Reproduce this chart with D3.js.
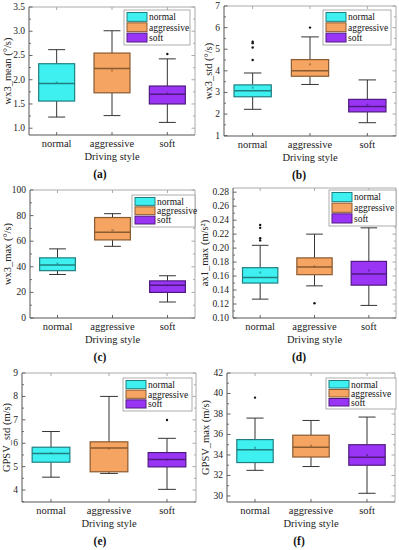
<!DOCTYPE html>
<html>
<head>
<meta charset="utf-8">
<script src="https://cdn.jsdelivr.net/npm/d3@7"></script>
<style>
  body { margin: 0; background: #fff; }
  svg text { font-family: "Liberation Serif", "DejaVu Serif", serif; }
</style>
</head>
<body>
<div id="chart"></div>
<script>
// categories, colours
const categories = ["normal", "aggressive", "soft"];
const fillColors = ["#3ff0f0", "#f5a462", "#9b35f5"];
const edgeColors = ["#1f7f80", "#8a5a30", "#4f1a80"];

// [low whisker, q1, median, q3, high whisker] par style
const wx3MeanBox = [[1.23, 1.56, 1.92, 2.33, 2.62], [1.26, 1.73, 2.23, 2.55, 3.01], [1.12, 1.50, 1.70, 1.87, 2.43]];
const wx3MeanAvg = [1.94, 2.19, 1.72];
const wx3MeanOut = [[], [], [2.53]];
const wx3MeanTicks = [1.0, 1.5, 2.0, 2.5, 3.0, 3.5];

const wx3StdBox = [[2.22, 2.80, 3.08, 3.35, 3.90], [3.37, 3.75, 4.00, 4.52, 5.57], [1.60, 2.10, 2.35, 2.68, 3.58]];
const wx3StdAvg = [3.22, 4.30, 2.43];
const wx3StdOut = [[5.35, 5.28, 5.08, 4.50], [6.00], []];
const wx3StdTicks = [1, 2, 3, 4, 5, 6, 7];

const wx3MaxBox = [[34, 37, 41.5, 47, 54], [56, 61, 67, 78.5, 81.5], [12.5, 20, 25.5, 29, 33]];
const wx3MaxAvg = [42.5, 68.5, 25.5];
const wx3MaxOut = [[], [], []];
const wx3MaxTicks = [0, 20, 40, 60, 80, 100];

const ax1MaxBox = [[0.127, 0.150, 0.158, 0.172, 0.204], [0.146, 0.162, 0.173, 0.186, 0.220], [0.118, 0.147, 0.163, 0.181, 0.229]];
const ax1MaxAvg = [0.165, 0.174, 0.168];
const ax1MaxOut = [[0.233, 0.229, 0.214, 0.211], [0.121], []];
const ax1MaxTicks = [0.10, 0.12, 0.14, 0.16, 0.18, 0.20, 0.22, 0.24, 0.26, 0.28];

const gpsvStdBox = [[4.55, 5.19, 5.56, 5.83, 6.50], [4.71, 4.78, 5.80, 6.06, 8.00], [4.03, 4.99, 5.30, 5.60, 6.21]];
const gpsvStdAvg = [5.58, 5.77, 5.30];
const gpsvStdOut = [[], [], [6.99]];
const gpsvStdTicks = [4, 5, 6, 7, 8, 9];

const gpsvMaxBox = [[32.5, 33.26, 34.5, 35.5, 37.6], [32.87, 33.8, 34.76, 35.93, 37.37], [30.26, 33.0, 33.78, 35.0, 37.7]];
const gpsvMaxAvg = [34.7, 34.9, 34.0];
const gpsvMaxOut = [[39.6], [], []];
const gpsvMaxTicks = [30, 32, 34, 36, 38, 40, 42];

const panels = [
  { tag: "(a)", box: wx3MeanBox, avg: wx3MeanAvg, out: wx3MeanOut, ticks: wx3MeanTicks, fmt: ".1f",
    yTitle: "wx3_mean (°/s)", domain: [0.86, 3.5], l: 29, r: 195, t: 7, b: 135, px: 0, ttlX: 8,
    leg: [124, 10, 66, 35] },
  { tag: "(b)", box: wx3StdBox, avg: wx3StdAvg, out: wx3StdOut, ticks: wx3StdTicks, fmt: "d",
    yTitle: "wx3_std (°/s)", domain: [0.985, 7], l: 224, r: 396, t: 6, b: 136, px: 199, ttlX: 209,
    leg: [323, 10, 68, 35] },
  { tag: "(c)", box: wx3MaxBox, avg: wx3MaxAvg, out: wx3MaxOut, ticks: wx3MaxTicks, fmt: "d",
    yTitle: "wx3_max (°/s)", domain: [0, 100], l: 30, r: 195, t: 190, b: 318, px: 0, ttlX: 8,
    leg: [132, 195, 63, 32] },
  { tag: "(d)", box: ax1MaxBox, avg: ax1MaxAvg, out: ax1MaxOut, ticks: ax1MaxTicks, fmt: ".2f",
    yTitle: "ax1_max (m/s²)", domain: [0.1, 0.286], l: 233, r: 396, t: 188, b: 318, px: 199, ttlX: 205,
    leg: [329, 190, 67, 36] },
  { tag: "(e)", box: gpsvStdBox, avg: gpsvStdAvg, out: gpsvStdOut, ticks: gpsvStdTicks, fmt: "d",
    yTitle: "GPSV_std (m/s)", domain: [3.49, 9], l: 22, r: 196, t: 373, b: 502, px: 0, ttlX: 7,
    leg: [123, 378, 69, 33] },
  { tag: "(f)", box: gpsvMaxBox, avg: gpsvMaxAvg, out: gpsvMaxOut, ticks: gpsvMaxTicks, fmt: "d",
    yTitle: "GPSV_max (m/s)", domain: [29.41, 42], l: 227, r: 395, t: 373, b: 502, px: 199, ttlX: 206,
    leg: [326, 378, 70, 31] }
];

const serif = "'Liberation Serif', 'DejaVu Serif', serif";

const svg = d3.select("#chart").append("svg")
  .attr("width", 399)
  .attr("height", 550)
  .attr("font-family", serif);

panels.forEach(p => {
  const g = svg.append("g");
  const y = d3.scaleLinear().domain(p.domain).range([p.b, p.t]);
  const x = d3.scalePoint().domain(categories).range([p.l, p.r]).padding(0.5);
  const bw = x.step() * 0.65;
  const cw = bw * 0.47;
  const fmt = d3.format(p.fmt);

  // cadre (gauche/bas foncés, haut/droite clairs)
  g.append("line").attr("x1", p.l).attr("x2", p.r).attr("y1", p.t).attr("y2", p.t).attr("stroke", "#aaa");
  g.append("line").attr("x1", p.r).attr("x2", p.r).attr("y1", p.t).attr("y2", p.b).attr("stroke", "#aaa");

  // graduations mineures
  const step = p.ticks[1] - p.ticks[0];
  const minor = p.ticks.slice(0, -1).map(v => v + step / 2)
    .concat([p.ticks[0] - step / 2]).filter(v => v >= p.domain[0] && v <= p.domain[1]);
  minor.forEach(v => {
    g.append("line").attr("x1", p.l).attr("x2", p.l + 2).attr("y1", y(v)).attr("y2", y(v)).attr("stroke", "#777");
    g.append("line").attr("x1", p.r).attr("x2", p.r - 2).attr("y1", y(v)).attr("y2", y(v)).attr("stroke", "#aaa");
  });
  p.ticks.forEach(v => {
    g.append("line").attr("x1", p.l).attr("x2", p.l + 3.5).attr("y1", y(v)).attr("y2", y(v)).attr("stroke", "#666");
    g.append("line").attr("x1", p.r).attr("x2", p.r - 3.5).attr("y1", y(v)).attr("y2", y(v)).attr("stroke", "#aaa");
    g.append("text").attr("x", p.l - 4).attr("y", y(v) + 3)
      .attr("text-anchor", "end").attr("font-size", "9.5px").attr("fill", "#222")
      .attr("font-family", serif)
      .text(fmt(v));
  });
  categories.forEach(c => {
    g.append("line").attr("x1", x(c)).attr("x2", x(c)).attr("y1", p.b).attr("y2", p.b - 3).attr("stroke", "#666");
    g.append("line").attr("x1", x(c)).attr("x2", x(c)).attr("y1", p.t).attr("y2", p.t + 3).attr("stroke", "#aaa");
    g.append("text").attr("x", x(c)).attr("y", p.b + 12)
      .attr("text-anchor", "middle").attr("font-size", "10.5px").attr("fill", "#222")
      .attr("font-family", serif)
      .text(c);
  });

  g.append("line").attr("x1", p.l).attr("x2", p.l).attr("y1", p.t).attr("y2", p.b).attr("stroke", "#555");
  g.append("line").attr("x1", p.l).attr("x2", p.r).attr("y1", p.b).attr("y2", p.b).attr("stroke", "#555");

  // boîtes à moustaches
  categories.forEach((c, i) => {
    const [lo, q1, med, q3, hi] = p.box[i];
    const cx = x(c);
    g.append("line").attr("x1", cx).attr("x2", cx).attr("y1", y(hi)).attr("y2", y(q3)).attr("stroke", "#333");
    g.append("line").attr("x1", cx).attr("x2", cx).attr("y1", y(q1)).attr("y2", y(lo)).attr("stroke", "#333");
    g.append("line").attr("x1", cx - cw / 2).attr("x2", cx + cw / 2).attr("y1", y(hi)).attr("y2", y(hi)).attr("stroke", "#333");
    g.append("line").attr("x1", cx - cw / 2).attr("x2", cx + cw / 2).attr("y1", y(lo)).attr("y2", y(lo)).attr("stroke", "#333");
    g.append("rect").attr("x", cx - bw / 2).attr("y", y(q3))
      .attr("width", bw).attr("height", y(q1) - y(q3))
      .attr("fill", fillColors[i]).attr("stroke", edgeColors[i]).attr("stroke-width", 1.2);
    g.append("line").attr("x1", cx - bw / 2).attr("x2", cx + bw / 2).attr("y1", y(med)).attr("y2", y(med))
      .attr("stroke", edgeColors[i]).attr("stroke-width", 1.5);
    g.append("rect").attr("x", cx - 1).attr("y", y(p.avg[i]) - 1).attr("width", 2).attr("height", 2)
      .attr("fill", edgeColors[i]).attr("opacity", 0.6);
    p.out[i].forEach(v => {
      g.append("circle").attr("cx", cx).attr("cy", y(v)).attr("r", 1.2).attr("fill", "#111");
    });
  });

  // titres
  g.append("text")
    .attr("transform", `translate(${p.ttlX + 3},${(p.t + p.b) / 2}) rotate(-90)`)
    .attr("text-anchor", "middle").attr("font-size", "10.5px").attr("fill", "#222")
    .attr("font-family", serif)
    .text(p.yTitle);
  g.append("text").attr("x", (p.l + p.r) / 2).attr("y", p.b + 25)
    .attr("text-anchor", "middle").attr("font-size", "10.5px").attr("fill", "#222")
    .attr("font-family", serif)
    .text("Driving style");
  g.append("text").attr("x", p.px + 100).attr("y", p.b + 43)
    .attr("text-anchor", "middle").attr("font-size", "11.5px").attr("font-weight", "bold").attr("fill", "#111")
    .attr("font-family", serif)
    .text(p.tag);

  // légende
  const [lx, ly, lw, lh] = p.leg;
  g.append("rect").attr("x", lx).attr("y", ly).attr("width", lw).attr("height", lh)
    .attr("fill", "#fff").attr("stroke", "#999").attr("stroke-width", 0.8);
  const rowH = (lh - 4) / 3;
  categories.forEach((c, i) => {
    const ry = ly + 2 + i * rowH;
    g.append("rect").attr("x", lx + 3).attr("y", ry + 0.5).attr("width", 20).attr("height", rowH - 1.5)
      .attr("fill", fillColors[i]).attr("stroke", edgeColors[i]).attr("stroke-width", 1);
    g.append("text").attr("x", lx + 25).attr("y", ry + rowH / 2 + 3)
      .attr("font-size", "9.5px").attr("fill", "#111")
      .attr("font-family", serif)
      .text(c);
  });
});
</script>
</body>
</html>
